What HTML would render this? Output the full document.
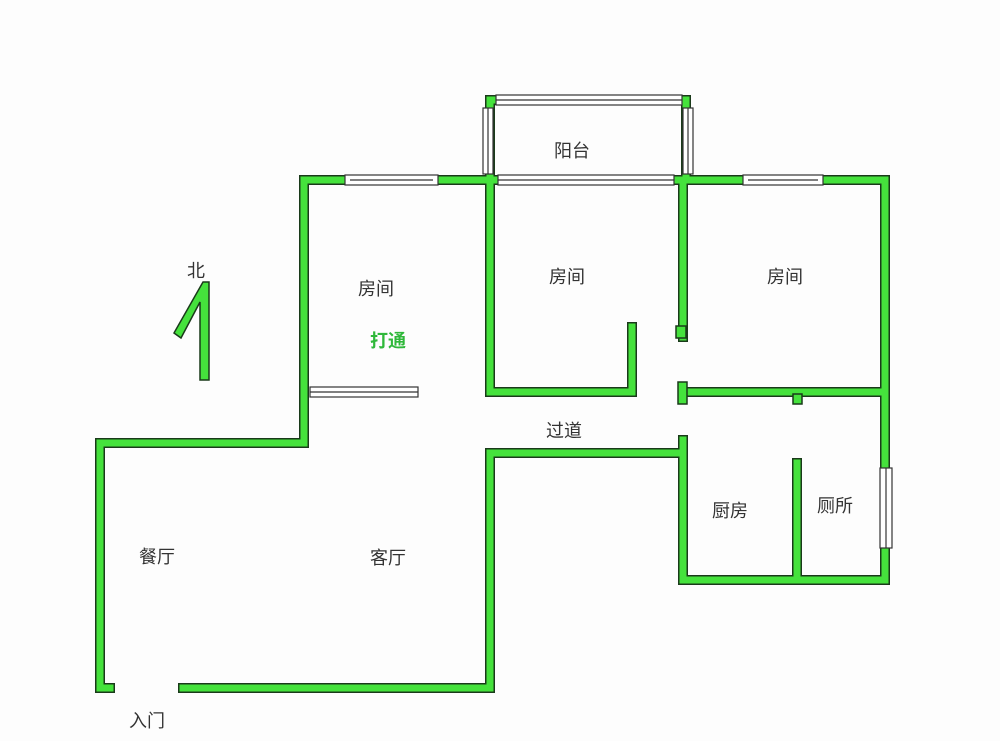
<!DOCTYPE html>
<html><head><meta charset="utf-8"><style>
html,body{margin:0;padding:0;background:#fff;}
svg{display:block}
text{font-family:"Liberation Sans","Noto Sans CJK SC",sans-serif;fill:#333;font-size:18px;text-anchor:middle}
</style></head><body>
<svg width="1000" height="741" viewBox="0 0 1000 741" xmlns="http://www.w3.org/2000/svg">
<rect width="1000" height="741" fill="#fdfdfd"/>
<g fill="none" stroke-linecap="square" stroke-linejoin="miter">
<g stroke="#1a3a1a" stroke-width="10">
<polyline points="304,392 304,180 885,180 885,580 683,580 683,440"/>
<polyline points="304,392 304,443 100,443 100,688 110,688"/>
<polyline points="183,688 490,688 490,453 683,453"/>
<polyline points="490,180 490,392 632,392 632,327"/>
<polyline points="683,180 683,337"/>
<polyline points="683,392 885,392"/>
<polyline points="797,463 797,578"/>
<polyline points="490,180 490,100 686,100 686,180"/>
</g>
<g stroke="#45e23c" stroke-width="7">
<polyline points="304,392 304,180 885,180 885,580 683,580 683,440"/>
<polyline points="304,392 304,443 100,443 100,688 110,688"/>
<polyline points="183,688 490,688 490,453 683,453"/>
<polyline points="490,180 490,392 632,392 632,327"/>
<polyline points="683,180 683,337"/>
<polyline points="683,392 885,392"/>
<polyline points="797,463 797,578"/>
<polyline points="490,180 490,100 686,100 686,180"/>
</g>
</g>
<rect x="676" y="326" width="10" height="12" fill="#45e23c" stroke="#1a3a1a" stroke-width="1.5"/>
<rect x="678" y="382" width="9" height="22" fill="#45e23c" stroke="#1a3a1a" stroke-width="1.5"/>
<rect x="793" y="394" width="9" height="10" fill="#45e23c" stroke="#1a3a1a" stroke-width="1.5"/>
<g fill="#fff" stroke="#333" stroke-width="1.2">
<rect x="345" y="175" width="93" height="10"/>
<line x1="350" y1="180" x2="433" y2="180"/>
<rect x="498" y="175" width="176" height="10"/>
<line x1="498" y1="180" x2="674" y2="180"/>
<rect x="743" y="175" width="80" height="10"/>
<line x1="748" y1="180" x2="818" y2="180"/>
<rect x="496" y="95" width="186" height="10"/>
<line x1="496" y1="100" x2="682" y2="100"/>
<rect x="483" y="108" width="10" height="66"/>
<line x1="488" y1="108" x2="488" y2="174"/>
<rect x="683" y="108" width="10" height="66"/>
<line x1="688" y1="108" x2="688" y2="174"/>
<rect x="310" y="387" width="108" height="10"/>
<line x1="310" y1="392" x2="418" y2="392"/>
<rect x="880" y="468" width="12" height="80"/>
<line x1="886" y1="468" x2="886" y2="548"/>
</g>
<polygon points="174,333 181,338 200,302 200,380 209,380 209,282 203,282" fill="#45e23c" stroke="#1a3a1a" stroke-width="1.5"/>
<text x="196" y="277" font-size="17">北</text>
<text x="376" y="295">房间</text>
<text x="388" y="347" font-size="21" font-weight="bold" style="fill:#2fb83a">打通</text>
<text x="567" y="283">房间</text>
<text x="785" y="283">房间</text>
<text x="572" y="157">阳台</text>
<text x="564" y="437">过道</text>
<text x="730" y="517">厨房</text>
<text x="835" y="512">厕所</text>
<text x="157" y="563">餐厅</text>
<text x="388" y="564">客厅</text>
<text x="147" y="727">入门</text>
</svg>
</body></html>
